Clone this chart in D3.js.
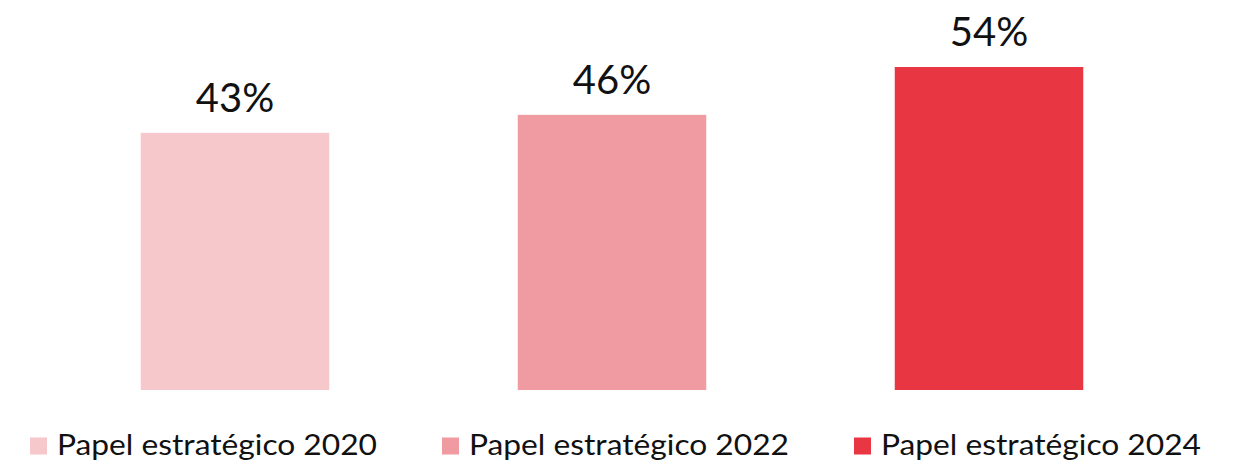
<!DOCTYPE html>
<html>
<head>
<meta charset="utf-8">
<script src="https://cdn.jsdelivr.net/npm/d3@7"></script>
<style>
  body { margin: 0; background: #fff; }
  svg { font-family: Lato, "Open Sans", sans-serif; }
</style>
</head>
<body>
<div id="chart"></div>
<script>
// data
var categories = ["Papel estratégico 2020", "Papel estratégico 2022", "Papel estratégico 2024"];
var values = [43, 46, 54];
var colors = ["#f7c8cb", "#f09ba1", "#e83642"];

var width = 1233, height = 463;
var baseline = 390;

var svg = d3.select("#chart").append("svg")
    .attr("width", width)
    .attr("height", height);

var x = d3.scaleBand()
    .domain(categories)
    .range([46.5, 1177.5])
    .paddingInner(0.5)
    .paddingOuter(0.25);

var y = d3.scaleLinear()
    .domain([0, 54])
    .range([baseline, 67]);

// bars
svg.selectAll(".bar")
    .data(values)
    .enter().append("rect")
    .attr("class", "bar")
    .attr("x", function (d, i) { return x(categories[i]); })
    .attr("y", function (d) { return y(d); })
    .attr("width", x.bandwidth())
    .attr("height", function (d) { return baseline - y(d); })
    .attr("fill", function (d, i) { return colors[i]; });

// value labels
svg.selectAll(".label")
    .data(values)
    .enter().append("text")
    .attr("class", "label")
    .attr("x", function (d, i) { return x(categories[i]) + x.bandwidth() / 2; })
    .attr("y", function (d) { return y(d) - 21; })
    .attr("text-anchor", "middle")
    .attr("font-size", 40)
    .attr("fill", "#111")
    .text(function (d) { return d + "%"; });

// legend
var legend = svg.append("g").attr("class", "legend");
var items = legend.selectAll(".item")
    .data(categories)
    .enter().append("g")
    .attr("class", "item");

items.append("rect")
    .attr("width", 17)
    .attr("height", 17)
    .attr("y", 437.5)
    .attr("fill", function (d, i) { return colors[i]; });

items.append("text")
    .attr("x", 27)
    .attr("y", 454.5)
    .attr("font-size", 28)
    .attr("textLength", 320)
    .attr("lengthAdjust", "spacingAndGlyphs")
    .attr("fill", "#111")
    .text(function (d) { return d; });

// lay out legend items centred with fixed gap
var gap = 65, itemW = 27 + 320;
var total = itemW * categories.length + gap * (categories.length - 1);
var start = 615.5 - total / 2;
items.attr("transform", function (d, i) {
    return "translate(" + (start + i * (itemW + gap)) + ",0)";
});
</script>
</body>
</html>
